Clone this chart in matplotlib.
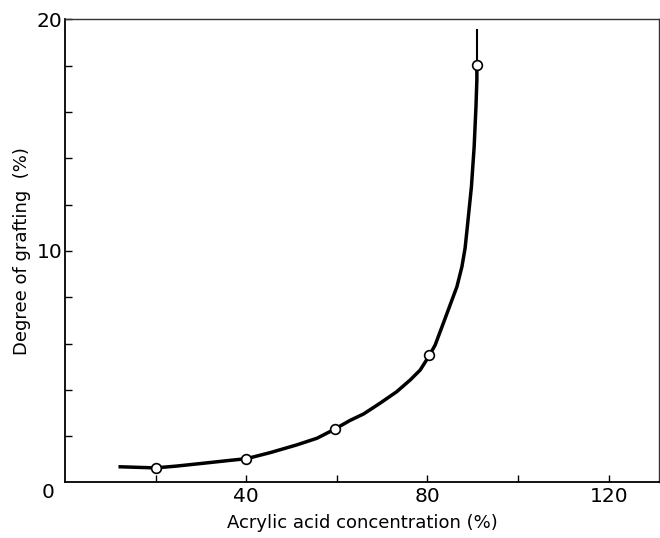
import numpy as np
import matplotlib.pyplot as plt

# measured points (acrylic acid %, degree of grafting %)
acid_conc = [20, 40, 59.5, 80.4, 90.9]
grafting = [0.61, 1.02, 2.30, 5.49, 18.03]

# hand-drawn trend curve, traced point by point
curve_x = [11.8, 20.0, 24.7, 30.5, 35.7, 40.1, 45.3, 51.1, 55.6, 59.5,
           62.9, 65.9, 69.5, 73.2, 76.2, 78.4, 80.4, 81.7, 83.5, 85.0,
           86.5, 87.6, 88.3, 88.8, 89.7, 90.3, 90.7, 90.9, 90.9, 90.9]
curve_y = [0.68, 0.63, 0.71, 0.83, 0.94, 1.03, 1.29, 1.62, 1.91, 2.30,
           2.68, 2.96, 3.42, 3.92, 4.43, 4.86, 5.48, 5.94, 6.88, 7.67,
           8.46, 9.32, 10.12, 11.05, 12.78, 14.50, 16.23, 17.39, 18.03, 19.55]

x_ticks = [20, 40, 60, 80, 100, 120]
x_labels = ["", "40", "", "80", "", "120"]
y_ticks = list(range(2, 21, 2))
y_labels = ["10" if v == 10 else "20" if v == 20 else "" for v in y_ticks]

plt.rcParams['font.family'] = ['DejaVu Sans']

fig = plt.figure(figsize=(6.6, 5.38), dpi=100)
ax = fig.add_axes([0.0985, 0.1032, 0.9, 0.8606])

# thick body of the curve, thinner tail above the last point
ax.plot(curve_x[:-1], curve_y[:-1], color="black", lw=2.5,
        solid_capstyle="butt", solid_joinstyle="round", zorder=2)
ax.plot(curve_x[-2:], curve_y[-2:], color="black", lw=1.5, zorder=2)
ax.plot(acid_conc, grafting, "o", ms=7, mfc="white", mec="black",
        mew=1.2, zorder=3)

ax.set_xlim(0, 131.1)
ax.set_ylim(0, 20)
ax.set_xticks(x_ticks)
ax.set_xticklabels(x_labels)
ax.set_yticks(y_ticks)
ax.set_yticklabels(y_labels)
ax.tick_params(direction="in", length=5, width=1, labelsize=14.5, pad=3)
ax.tick_params(axis="y", pad=2)

# shared origin label sits below-left of the corner
ax.annotate("0", xy=(0, 0), xytext=(-17, -10), textcoords="offset pixels",
            ha="center", va="center", fontsize=14.5, annotation_clip=False)

for side in ("left", "bottom"):
    ax.spines[side].set_linewidth(1.3)
for side in ("top", "right"):
    ax.spines[side].set_linewidth(1.0)
    ax.spines[side].set_color("#333333")

ax.set_xlabel("Acrylic acid concentration (%)", fontsize=13, labelpad=6)
ax.set_ylabel("Degree of grafting  (%)", fontsize=13, labelpad=4)

fig.savefig("out.png", dpi=100)
